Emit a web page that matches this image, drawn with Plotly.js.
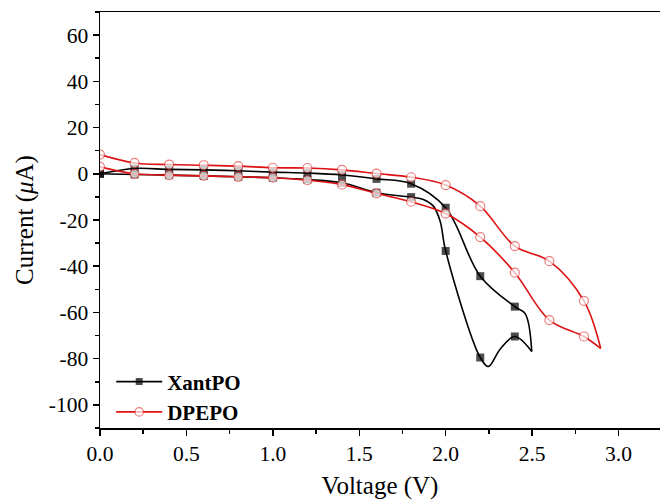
<!DOCTYPE html>
<html><head><meta charset="utf-8">
<script src="https://cdn.plot.ly/plotly-3.0.1.min.js"></script>
<style>html,body{margin:0;padding:0;background:#fff}</style>
</head><body><div id="chart" style="width:660px;height:500px"></div>
<script>
const seriesNames = ['XantPO', 'DPEPO'];
// XantPO: forward branch (0 V -> turning point) and reverse branch (turning point -> 0 V)
const xantFwdV = [0, 0.2, 0.4, 0.6, 0.8, 1.0, 1.2, 1.4, 1.6, 1.8, 2.0, 2.2, 2.4, 2.46, 2.498];
const xantFwdI = [0, 2.3, 1.9, 1.7, 1.3, 0.7, 0.3, -0.5, -2.2, -4.3, -14.7, -44.3, -57.5, -60.5, -76.9];
const xantRevV = [2.498, 2.4, 2.315, 2.247, 2.2, 2.0, 1.968, 1.929, 1.871, 1.8, 1.6, 1.4, 1.2, 1.0, 0.8, 0.6, 0.4, 0.2, 0];
const xantRevI = [-76.9, -70.4, -75.9, -83.4, -79.5, -33.4, -20.5, -14.0, -11.1, -10.1, -8.2, -3.9, -2.5, -1.7, -1.3, -0.9, -0.6, -0.3, 0];
// DPEPO
const dpepoFwdV = [0, 0.2, 0.4, 0.6, 0.8, 1.0, 1.2, 1.4, 1.6, 1.8, 2.0, 2.2, 2.4, 2.6, 2.8, 2.897];
const dpepoFwdI = [8.3, 4.7, 4.0, 3.7, 3.3, 2.6, 2.5, 1.7, 0.1, -1.5, -4.9, -14.0, -31.3, -37.8, -55.0, -75.6];
const dpepoRevV = [2.897, 2.8, 2.6, 2.4, 2.2, 2.0, 1.8, 1.6, 1.4, 1.2, 1.0, 0.8, 0.6, 0.4, 0.2, 0];
const dpepoRevI = [-75.6, -70.4, -63.3, -42.8, -27.4, -17.2, -12.1, -8.5, -4.7, -2.8, -1.7, -1.3, -0.9, -0.6, 0.0, 3.0];
const xTickVals = [0, 0.5, 1.0, 1.5, 2.0, 2.5, 3.0];
const yTickVals = [-100, -80, -60, -40, -20, 0, 20, 40, 60];

const FONT = 'Liberation Serif, Times New Roman, serif';
// markers are drawn every 0.2 V only
const isMarked = v => Math.abs(v * 5 - Math.round(v * 5)) < 1e-6;
const sizes = (arr, s) => arr.map(v => isMarked(v) ? s : 0);

const blackStyle = (V) => ({
  mode: 'lines+markers',
  line: {color: '#000000', width: 1.6, shape: 'spline', smoothing: 1},
  marker: {symbol: 'square', color: '#000000', size: sizes(V, 8), line: {width: 0}},
  legendgroup: 'x'
});
const redStyle = (V) => ({
  mode: 'lines+markers',
  line: {color: '#dd1111', width: 1.6, shape: 'spline', smoothing: 1},
  marker: {symbol: 'circle', color: '#ffffff', size: sizes(V, 9), line: {width: 1.2, color: '#e34848'}},
  legendgroup: 'd'
});

const traces = [
  Object.assign({x: xantFwdV, y: xantFwdI, name: seriesNames[0], showlegend: true}, blackStyle(xantFwdV)),
  Object.assign({x: xantRevV, y: xantRevI, name: seriesNames[0], showlegend: false}, blackStyle(xantRevV)),
  Object.assign({x: dpepoFwdV, y: dpepoFwdI, name: seriesNames[1], showlegend: true}, redStyle(dpepoFwdV)),
  Object.assign({x: dpepoRevV, y: dpepoRevI, name: seriesNames[1], showlegend: false}, redStyle(dpepoRevV))
];

const axisCommon = {
  showline: true, linecolor: '#000', linewidth: 1.5,
  ticks: 'outside', ticklen: 6, tickwidth: 1.5, tickcolor: '#000',
  showgrid: false, zeroline: false,
  tickfont: {family: FONT, size: 21.5, color: '#000'}
};

const layout = {
  width: 660, height: 500,
  margin: {l: 100, r: 0, t: 12, b: 72},
  paper_bgcolor: '#fff', plot_bgcolor: '#fff',
  font: {family: FONT, color: '#000'},
  xaxis: Object.assign({}, axisCommon, {
    range: [0, 3.24], tickvals: xTickVals, ticktext: xTickVals.map(v => v.toFixed(1)),
    mirror: true,
    minor: {dtick: 0.25, tick0: 0, ticks: 'outside', ticklen: 4, tickwidth: 1.5, tickcolor: '#000'},
    title: {text: 'Voltage (V)', font: {family: FONT, size: 25, color: '#000'}, standoff: 12}
  }),
  yaxis: Object.assign({}, axisCommon, {
    range: [-110, 70], tickvals: yTickVals, ticktext: yTickVals.map(v => String(v)),
    mirror: false,
    minor: {dtick: 10, tick0: 0, ticks: 'outside', ticklen: 4, tickwidth: 1.5, tickcolor: '#000'},
    title: {text: 'Current (<i>μ</i>A)', font: {family: FONT, size: 25, color: '#000'}, standoff: 8}
  }),
  showlegend: true,
  legend: {
    x: 0.02, y: 0.16, xanchor: 'left', yanchor: 'top',
    bgcolor: 'rgba(0,0,0,0)', borderwidth: 0,
    itemwidth: 46, tracegroupgap: 0,
    font: {family: FONT, size: 21, color: '#000', weight: 'bold'}
  }
};

Plotly.newPlot('chart', traces, layout, {displayModeBar: false, staticPlot: true});
</script>
</body></html>
